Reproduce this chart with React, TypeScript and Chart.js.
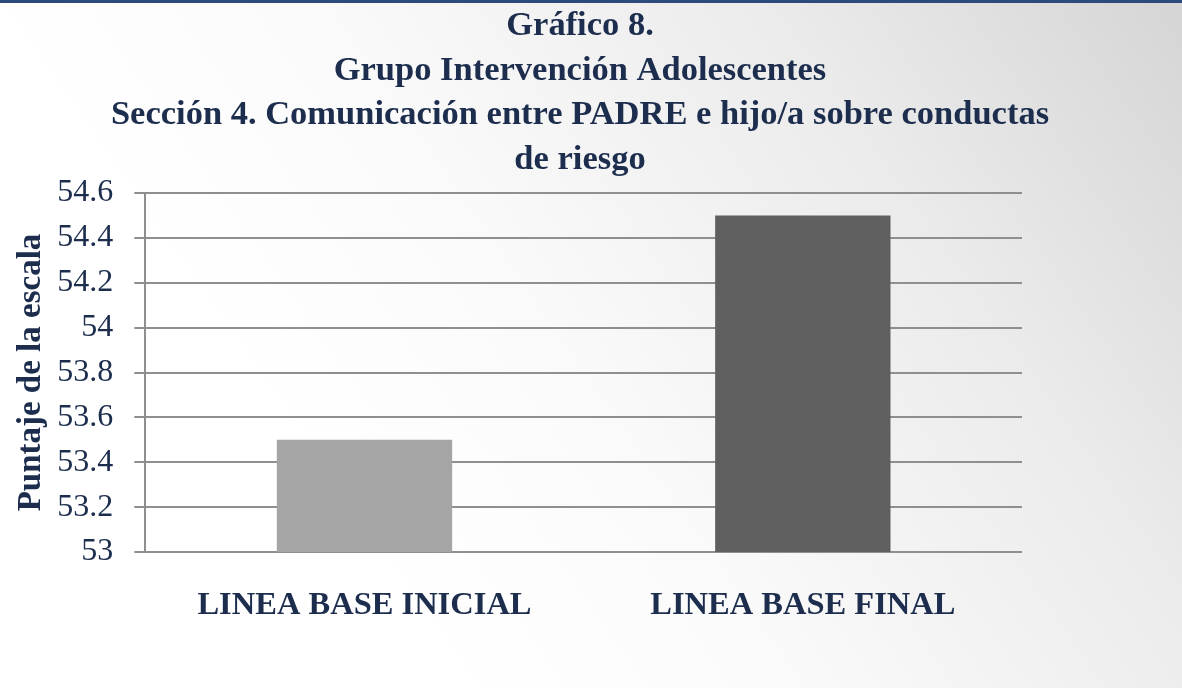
import React, { useEffect, useRef } from "react";
import { Chart, registerables } from "chart.js";

Chart.register(...registerables);

const titleLines = [
  "Gráfico 8.",
  "Grupo Intervención Adolescentes",
  "Sección 4. Comunicación entre PADRE e hijo/a sobre conductas",
  "de riesgo",
];
const categories = ["LINEA BASE INICIAL", "LINEA BASE FINAL"];
const values = [53.5, 54.5];
const barColors = ["#a5a5a5", "#5f5f5f"];
const yTickValues = [53, 53.2, 53.4, 53.6, 53.8, 54, 54.2, 54.4, 54.6];
const yTickLabels = ["53", "53.2", "53.4", "53.6", "53.8", "54", "54.2", "54.4", "54.6"];
const yAxisTitle = "Puntaje de la escala";

const TEXT = "#1c2d4d";
const GRID = "#8f8f8f";
const SERIF = "'Liberation Serif', 'Times New Roman', serif";

export default function App() {
  const ref = useRef<HTMLCanvasElement | null>(null);

  useEffect(() => {
    if (!ref.current) return;
    const chart = new Chart(ref.current, {
      type: "bar",
      data: {
        labels: categories,
        datasets: [
          {
            data: values,
            backgroundColor: barColors,
            borderWidth: 0,
            barPercentage: 0.4,
            categoryPercentage: 1,
          },
        ],
      },
      options: {
        responsive: false,
        animation: false,
        layout: { padding: { left: 0, right: 22, top: 0, bottom: 29 } },
        plugins: {
          legend: { display: false },
          tooltip: { enabled: false },
          title: {
            display: true,
            fullSize: true,
            text: titleLines,
            color: TEXT,
            font: { family: SERIF, size: 34.5, weight: "bold", lineHeight: 1.29 },
            padding: { top: 4.25, bottom: 10.75 },
          },
        },
        scales: {
          x: {
            grid: { display: false, drawTicks: false, tickLength: 0 },
            border: { display: false },
            ticks: {
              color: TEXT,
              padding: 34,
              maxRotation: 0,
              font: { family: SERIF, size: 32.5, weight: "bold" },
            },
          },
          y: {
            min: 53,
            max: 54.6,
            afterBuildTicks: (scale: any) => {
              scale.ticks = yTickValues.map((v) => ({ value: v }));
            },
            ticks: {
              color: TEXT,
              padding: 21,
              autoSkip: false,
              font: { family: SERIF, size: 32, lineHeight: 1 },
              callback: (v: any) => {
                const i = yTickValues.findIndex((t) => Math.abs(t - Number(v)) < 1e-6);
                return i >= 0 ? yTickLabels[i] : "";
              },
            },
            grid: { color: GRID, lineWidth: 2, tickLength: 11, drawTicks: true },
            border: { display: true, color: GRID, width: 2 },
            title: {
              display: true,
              text: yAxisTitle,
              color: TEXT,
              font: { family: SERIF, size: 33, weight: "bold", lineHeight: 1.1 },
              padding: { top: 13, bottom: -13 },
            },
          },
          yPad: {
            type: "linear",
            position: "right",
            display: true,
            grid: { display: false, drawTicks: false },
            border: { display: false },
            ticks: { display: false },
            afterFit: (scale: any) => {
              scale.width = 138;
            },
          },
        },
      },
    });
    return () => chart.destroy();
  }, []);

  return (
    <div
      style={{
        position: "fixed",
        left: 0,
        top: 0,
        width: 1182,
        height: 688,
        background:
          "linear-gradient(235deg, #d5d5d5 0%, #ebebeb 25%, #fafafa 52%, #ffffff 72%)",
        overflow: "hidden",
      }}
    >
      <div style={{ position: "absolute", left: 0, top: 0, width: 1182, height: 3, background: "#2c4a7c" }} />
      <canvas ref={ref} width={1182} height={688} style={{ position: "absolute", left: 0, top: 0 }} />
    </div>
  );
}
